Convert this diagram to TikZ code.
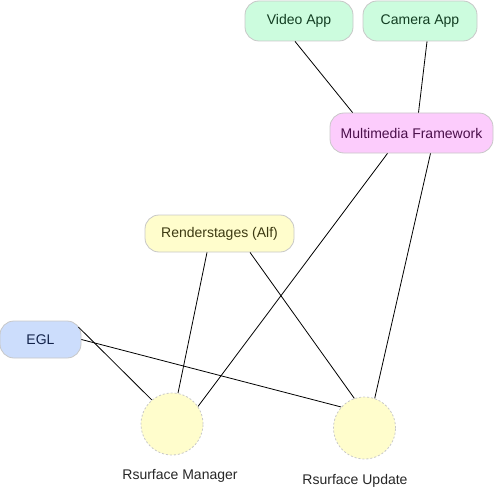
\documentclass[tikz,border=0pt]{standalone}
\usepackage{fontspec}
\setmainfont{Liberation Sans}
\definecolor{greenfill}{HTML}{CCFCDE}
\definecolor{pinkfill}{HTML}{FCCCFC}
\definecolor{yelfill}{HTML}{FFFDCC}
\definecolor{bluefill}{HTML}{CCDDFC}
\definecolor{edgegray}{HTML}{C8C8C8}
\definecolor{greentxt}{HTML}{123D22}
\definecolor{pinktxt}{HTML}{4A0F4A}
\definecolor{yeltxt}{HTML}{3D3A12}
\definecolor{bluetxt}{HTML}{12224A}
\begin{document}
\begin{tikzpicture}[x=1pt,y=-1pt,
  box/.style={draw=edgegray, line width=0.8pt, rounded corners=14pt, minimum height=40pt, inner sep=0pt, font=\fontsize{14}{16}\selectfont},
  blob/.style={circle, draw=edgegray, dashed, dash pattern=on 2pt off 2pt, line width=0.8pt, fill=yelfill, minimum size=62pt, inner sep=0pt},
  lbl/.style={font=\fontsize{14}{16}\selectfont, text=black!85},
  conn/.style={draw=black, line width=0.8pt}]
\useasboundingbox (0,0) rectangle (494,489);
\node[box, fill=greenfill, text=greentxt, minimum width=108pt] (video) at (299,21) {Video App};
\node[box, fill=greenfill, text=greentxt, minimum width=114pt] (camera) at (420,21) {Camera App};
\node[box, fill=pinkfill, text=pinktxt, minimum width=163pt] (mm) at (411.5,133) {Multimedia Framework};
\node[box, fill=yelfill, text=yeltxt, minimum width=149pt, minimum height=37pt] (rs) at (219.5,233.5) {Renderstages (Alf)};
\node[box, fill=bluefill, text=bluetxt, minimum width=81pt, minimum height=37pt] (egl) at (40.5,339.5) {EGL};
\node[blob] (mgr) at (172,424) {};
\node[blob] (upd) at (364.5,428) {};
\node[lbl] (mgrl) at (180,476) {Rsurface Manager};
\node[lbl] (updl) at (355,481) {Rsurface Update};
\draw[conn] ([xshift=-4pt]video.south) -- ([xshift=23pt]mm.north west);
\draw[conn] ([xshift=7pt]camera.south) -- ([xshift=7pt]mm.north);
\draw[conn] ([xshift=-24pt]mm.south) -- (mgr.34);
\draw[conn] ([xshift=19pt]mm.south) -- (upd.71);
\draw[conn] ([xshift=-12.5pt]rs.south) -- (mgr.79);
\draw[conn] ([xshift=30.5pt]rs.south) -- (upd.109);
\draw[conn] ([xshift=-3pt,yshift=12.5pt]egl.east) -- (mgr.130);
\draw[conn] (egl.east) -- (upd.138);
\end{tikzpicture}
\end{document}
